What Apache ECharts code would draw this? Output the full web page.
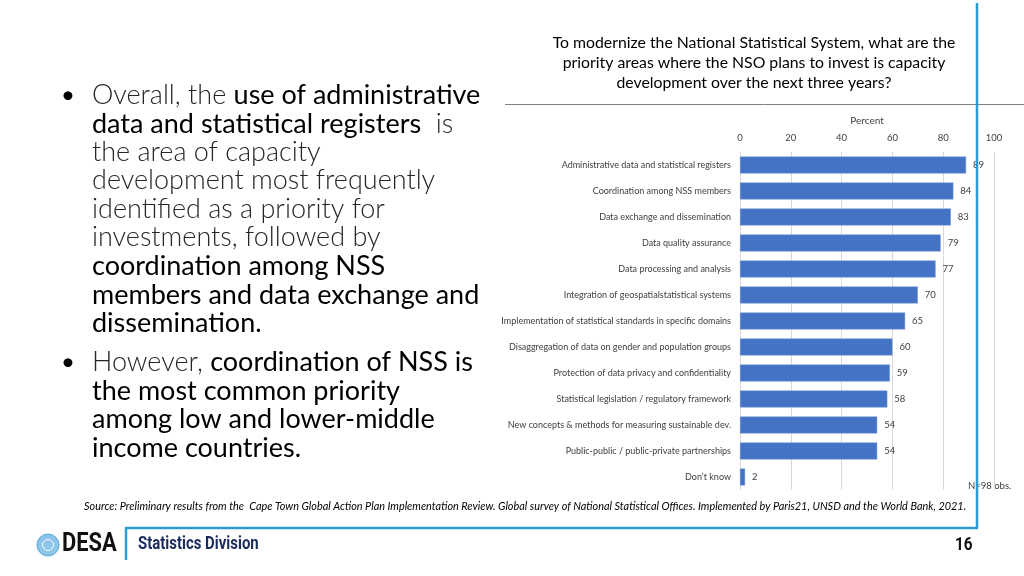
<!DOCTYPE html>
<html>
<head>
<meta charset="utf-8">
<script src="https://cdn.jsdelivr.net/npm/echarts@6/dist/echarts.min.js"></script>
<style>
html,body{margin:0;padding:0;background:#fff;}
#c{width:1024px;height:576px;}
</style>
</head>
<body>
<div id="c"></div>
<script>
const categories = [
  'Administrative data and statistical registers',
  'Coordination among NSS members',
  'Data exchange and dissemination',
  'Data quality assurance',
  'Data processing and analysis',
  'Integration of geospatialstatistical systems',
  'Implementation of statistical standards in specific domains',
  'Disaggregation of data on gender and population groups',
  'Protection of data privacy and confidentiality',
  'Statistical legislation / regulatory framework',
  'New concepts & methods for measuring sustainable dev.',
  'Public-public / public-private partnerships',
  'Don\u2019t know'
];
const percentValues = [89, 84, 83, 79, 77, 70, 65, 60, 59, 58, 54, 54, 2];
const axisTicks = [0, 20, 40, 60, 80, 100];

const chartTitle = 'To modernize the National Statistical System, what are the\npriority areas where the NSO plans to invest is capacity\ndevelopment over the next three years?';
const axisName = 'Percent';
const noteText = 'N=98 obs.';
const sourceText = 'Source: Preliminary results from the  Cape Town Global Action Plan Implementation Review. Global survey of National Statistical Offices. Implemented by Paris21, UNSD and the World Bank, 2021.';

const bulletLines = [
  ['{l|Overall, the }{r|use of administrative}', true],
  ['{r|data and statistical registers}{l|  is}', false],
  ['{l|the area of capacity}', false],
  ['{l|development most frequently}', false],
  ['{l|identified as a priority for}', false],
  ['{l|investments, followed by}', false],
  ['{r|coordination among NSS}', false],
  ['{r|members and data exchange and}', false],
  ['{r|dissemination.}', false],
  ['{l|However, }{r|coordination of NSS is}', true],
  ['{r|the most common priority}', false],
  ['{r|among low and lower-middle}', false],
  ['{r|income countries.}', false]
];
const lineY = [96, 125, 153, 181, 210, 238, 267, 296, 324, 363, 392, 420, 449];

const FONT = 'Lato, "Open Sans", sans-serif';
const BFS = 27;
const graphics = [];
const rich = {
  l: {fontFamily: FONT, fontSize: BFS, fontWeight: 300, fill: '#262626', color: '#262626'},
  r: {fontFamily: FONT, fontSize: BFS, fontWeight: 'normal', fill: '#000', color: '#000'}
};
bulletLines.forEach((ln, i) => {
  graphics.push({
    type: 'text', left: 92, top: lineY[i] - 14,
    style: {text: ln[0], rich: rich, font: BFS + 'px ' + FONT, fill: '#000'}
  });
  if (ln[1]) {
    graphics.push({
      type: 'text', left: 61, top: lineY[i] - 13,
      style: {text: '\u2022', font: '24px ' + FONT, fill: '#000'}
    });
  }
});

graphics.push({
  type: 'text', x: 754, y: 33,
  style: {text: chartTitle, font: '15.8px ' + FONT, fill: '#000', textAlign: 'center', lineHeight: 20}
});
graphics.push({type: 'line', shape: {x1: 505, y1: 104.5, x2: 1024, y2: 104.5}, style: {stroke: '#7f7f7f', lineWidth: 1}});
graphics.push({type: 'text', left: 968, top: 481, style: {text: noteText, font: '9.5px ' + FONT, fill: '#404040'}});
graphics.push({type: 'line', shape: {x1: 977, y1: 3, x2: 977, y2: 528}, style: {stroke: '#2e9bd0', lineWidth: 2.5}, z: 20});
graphics.push({type: 'line', shape: {x1: 126, y1: 528, x2: 978, y2: 528}, style: {stroke: '#2e9bd0', lineWidth: 2.5}, z: 20});
graphics.push({type: 'line', shape: {x1: 126, y1: 527, x2: 126, y2: 560}, style: {stroke: '#2e9bd0', lineWidth: 2.5}, z: 20});
graphics.push({type: 'text', left: 84, top: 501, style: {text: sourceText, font: 'italic 10.9px ' + FONT, fill: '#000'}});
graphics.push({type: 'circle', shape: {cx: 48, cy: 545, r: 11}, style: {fill: '#8cc4ea', stroke: '#5aa8dc', lineWidth: 1}});
graphics.push({type: 'circle', shape: {cx: 48, cy: 545, r: 5.5}, style: {fill: 'none', stroke: '#ffffff', lineWidth: 1}});
graphics.push({type: 'text', x: 62, y: 531, scaleX: 0.84, style: {text: 'DESA', font: 'bold 26px Roboto, sans-serif', fill: '#111'}});
graphics.push({type: 'text', x: 138, y: 535, scaleX: 0.83, style: {text: 'Statistics Division', font: 'bold 18px Roboto, sans-serif', fill: '#1a2b5e'}});
graphics.push({type: 'text', x: 955, y: 536, scaleX: 0.85, style: {text: '16', font: 'bold 18px Roboto, sans-serif', fill: '#111'}});

const chart = echarts.init(document.getElementById('c'), null, {renderer: 'canvas'});
chart.setOption({
  backgroundColor: '#fff',
  animation: false,
  grid: {left: 740, right: 30, top: 152, bottom: 86, containLabel: false},
  xAxis: {
    type: 'value', position: 'top', min: axisTicks[0], max: axisTicks[axisTicks.length - 1], interval: 20,
    name: axisName, nameLocation: 'middle', nameGap: 26,
    nameTextStyle: {fontFamily: FONT, fontSize: 10, color: '#404040'},
    axisLine: {show: false}, axisTick: {show: false},
    axisLabel: {fontFamily: FONT, fontSize: 9.5, color: '#404040', margin: 9},
    splitLine: {show: true, lineStyle: {color: '#d9d9d9', width: 1}}
  },
  yAxis: {
    type: 'category', inverse: true, data: categories,
    axisLine: {show: true, lineStyle: {color: '#d9d9d9'}}, axisTick: {show: false},
    axisLabel: {fontFamily: FONT, fontSize: 9, color: '#404040', margin: 9}
  },
  series: [{
    type: 'bar', data: percentValues, barCategoryGap: '35%',
    itemStyle: {color: '#4472c4', borderColor: '#6f94d6', borderWidth: 0.5},
    label: {show: true, position: 'right', distance: 7, fontFamily: FONT, fontSize: 9.5, color: '#404040'}
  }],
  graphic: graphics
});
</script>
</body>
</html>
